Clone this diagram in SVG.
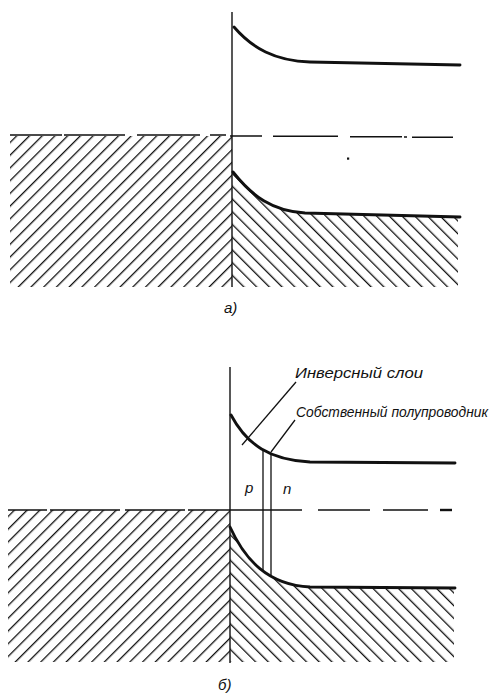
<svg xmlns="http://www.w3.org/2000/svg" width="502" height="695" viewBox="0 0 502 695">
<style>
.axis{stroke:#111;stroke-width:1.4;fill:none}
.band{stroke:#111;stroke-width:2.9;fill:none;stroke-linecap:round}
.dash{stroke:#111;stroke-width:1.6;fill:none}
.thin{stroke:#111;stroke-width:1.3;fill:none}
.lbl{font-family:"Liberation Sans","DejaVu Sans",sans-serif;font-style:italic;fill:#111}
</style>
<defs>
<pattern id="hatchL" patternUnits="userSpaceOnUse" width="9" height="9" patternTransform="translate(232,136) rotate(45)">
<rect x="0" y="0" width="1.3" height="9" fill="#111"/>
</pattern>
<pattern id="hatchR" patternUnits="userSpaceOnUse" width="9" height="9" patternTransform="translate(232,136) rotate(-45)">
<rect x="0" y="0" width="1.3" height="9" fill="#111"/>
</pattern>
<pattern id="hatchL2" patternUnits="userSpaceOnUse" width="9" height="9" patternTransform="translate(230,510) rotate(45)">
<rect x="0" y="0" width="1.3" height="9" fill="#111"/>
</pattern>
<pattern id="hatchR2" patternUnits="userSpaceOnUse" width="9" height="9" patternTransform="translate(230,510) rotate(-45)">
<rect x="0" y="0" width="1.3" height="9" fill="#111"/>
</pattern>
</defs>
<rect width="502" height="695" fill="#fff"/>

<!-- Diagram a -->
<g id="diagram-a">
<g id="a-left-hatch"><rect x="10" y="136" width="222" height="151" fill="url(#hatchL)"/></g>
<g id="a-right-hatch"><path d="M232,172 C252,196 272,211 305,213 L458,217 L458,287 L232,287 Z" fill="url(#hatchR)"/></g>
<g id="a-fermi">
<path class="dash" d="M10,135 H62 M64,135 H125 M137,135 H200 M210,135 H226 M230,136 H262 M273,136.3 H338 M350,136.8 H402 M404,137 H407 M412,137.2 H453"/>
<rect x="347" y="157.5" width="2.2" height="2.2" fill="#111"/>
</g>
<g id="a-axis"><path class="axis" d="M232,12 V287"/></g>
<g id="a-conduction"><path class="band" d="M234,27 C252,48 275,61 310,62 L460,65"/></g>
<g id="a-valence"><path class="band" d="M233,172 C252,196 272,211 305,213 L460,217"/></g>
<g id="a-label"><text class="lbl" x="224" y="313" font-size="15">a)</text></g>
</g>

<!-- Diagram b -->
<g id="diagram-b">
<g id="b-left-hatch"><rect x="8" y="510" width="222" height="152" fill="url(#hatchL2)"/></g>
<g id="b-right-hatch"><path d="M230,527 C245,560 268,585 310,587 L454,588 L454,662 L230,662 Z" fill="url(#hatchR2)"/></g>
<g id="b-fermi">
<path class="dash" d="M8,510 H47 M50,510 H120 M125,510 H185 M188,510 H230 M230,510 H302 M318,510 H370 M383,510 H428"/>
<path stroke="#111" stroke-width="2.4" d="M440,510 H452"/>
</g>
<g id="b-axis"><path class="axis" d="M230,367 V663"/></g>
<g id="b-conduction"><path class="band" d="M231,415 C247,445 270,460 310,462 L455,463"/></g>
<g id="b-valence"><path class="band" d="M230,527 C245,560 268,585 310,587 L455,588"/></g>
<g id="b-junction">
<path class="thin" d="M263,450 V571 M271,453 V575"/>
</g>
<g id="b-p"><text class="lbl" x="245" y="493" font-size="15">p</text></g>
<g id="b-n"><text class="lbl" x="283" y="494" font-size="15">n</text></g>
<g id="b-inv-label"><text class="lbl" x="295" y="378" font-size="15" textLength="128" lengthAdjust="spacingAndGlyphs">Инверсный слои</text></g>
<g id="b-intr-label"><text class="lbl" x="296" y="417" font-size="14" textLength="192" lengthAdjust="spacingAndGlyphs">Собственный полупроводник</text></g>
<g id="b-label"><text class="lbl" x="218" y="690" font-size="15">б)</text></g>
</g>

<g id="connectors">
<path class="thin" d="M296,382 L242,445"/>
<path class="thin" d="M295,420 L271,452"/>
</g>
</svg>
